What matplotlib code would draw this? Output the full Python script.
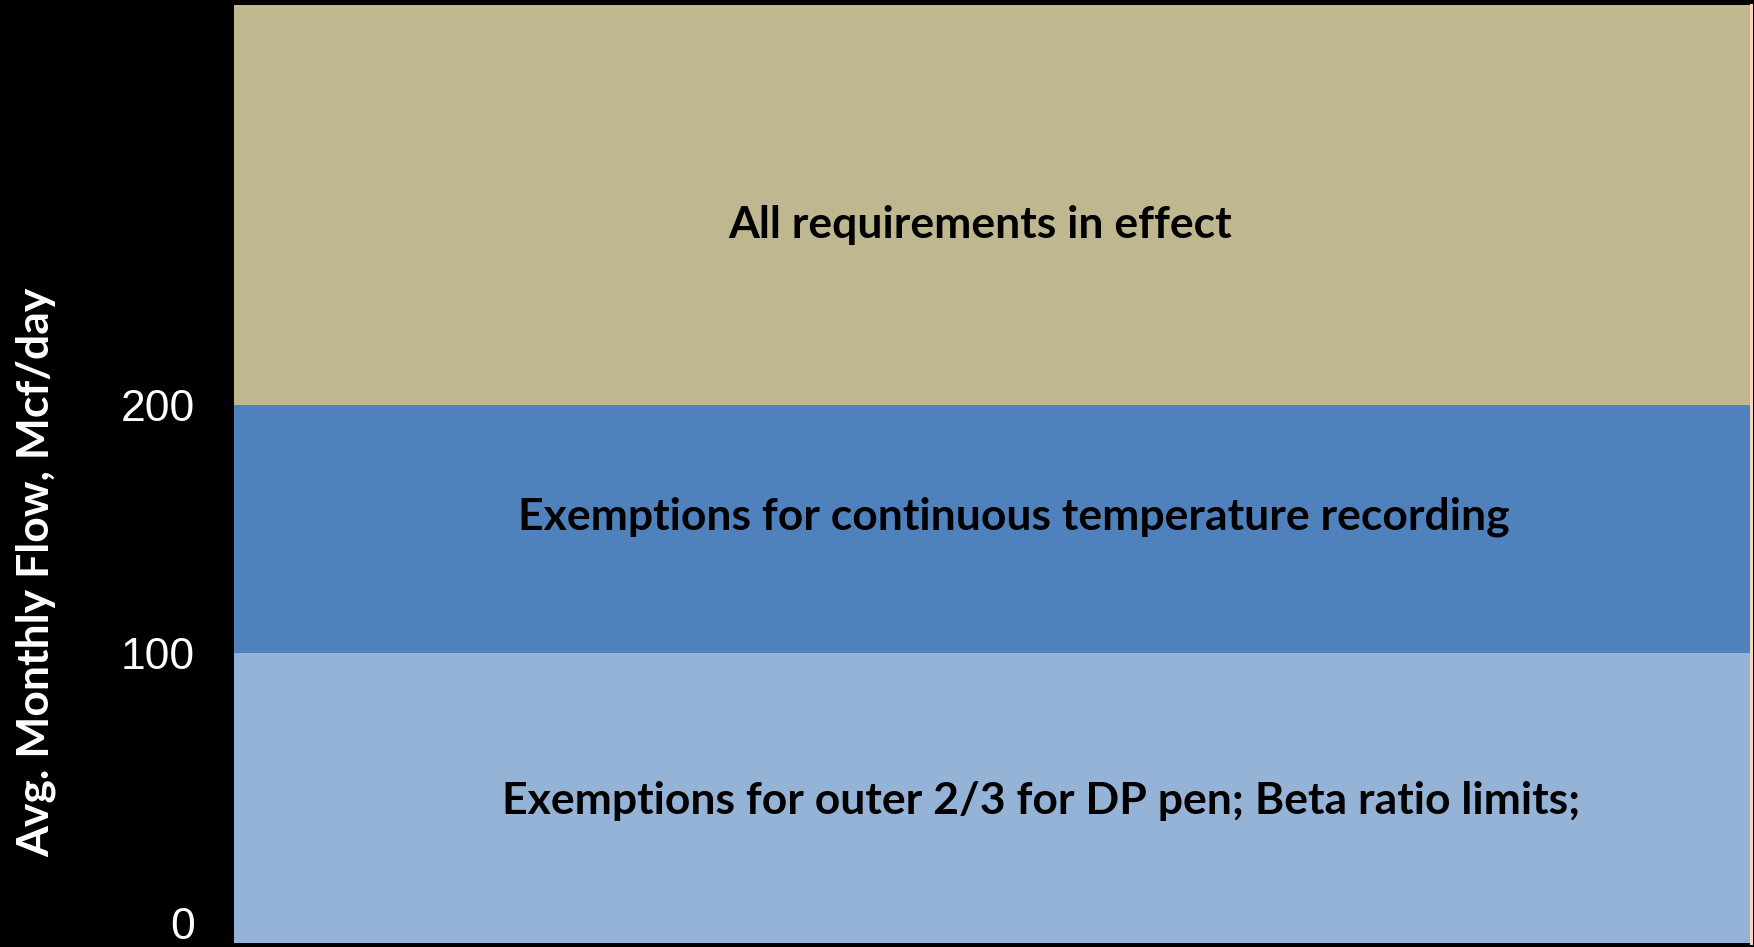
import numpy as np
import matplotlib
matplotlib.use("Agg")
import matplotlib.pyplot as plt
import matplotlib.transforms as mtransforms

# band edges (Mcf/day) and labels
band_bottoms = [0, 100, 200]
band_tops = [100, 200, 300]
band_labels = [
    "Exemptions for outer 2/3 for DP pen; Beta ratio limits;",
    "Exemptions for continuous temperature recording",
    "All requirements in effect",
]
band_colors = ["#95B3D7", "#4F81BD", "#BFB78F"]
tick_values = [0, 100, 200]

# the original diagram is not drawn to a linear scale
scale_vals = [0, 100, 200, 300]
scale_pos = [0, 290, 538, 938]


def fwd(y):
    return np.interp(y, scale_vals, scale_pos)


def inv(p):
    return np.interp(p, scale_pos, scale_vals)


fig = plt.figure(figsize=(17.54, 9.47), dpi=100, facecolor="black")
ax = fig.add_axes([234 / 1754, 1 - 943 / 947, 1517 / 1754, 938 / 947])
ax.set_facecolor("black")
ax.set_yscale("function", functions=(fwd, inv))

heights = [t - b for b, t in zip(band_bottoms, band_tops)]
ax.bar([0] * 3, heights, bottom=band_bottoms, width=1.0, color=band_colors,
       align="center", linewidth=0)
ax.set_xlim(-0.5, 0.5)
ax.set_ylim(0, 300)

# label placement (fraction across, nudge in data units)
label_x = [0.532, 0.514, 0.492]
label_dy = [-1, 5, -5]
for b, t, lab, lx, dy in zip(band_bottoms, band_tops, band_labels, label_x, label_dy):
    ax.text(lx, (b + t) / 2 + dy, lab, transform=ax.get_yaxis_transform(),
            ha="center", va="center", fontsize=32, fontweight="bold",
            family=["Lato", "DejaVu Sans"], color="black")

ax.set_xticks([])
ax.set_yticks(tick_values)
ax.set_yticklabels([str(v) for v in tick_values])
ax.tick_params(axis="y", length=0, pad=28, colors="white", labelsize=32)
for lbl in ax.get_yticklabels():
    lbl.set_family(["Liberation Sans", "DejaVu Sans"])
zero_lbl = ax.get_yticklabels()[0]
zero_lbl.set_verticalalignment("baseline")
zero_lbl.set_transform(zero_lbl.get_transform() +
                       mtransforms.ScaledTranslation(0, 4 / 100, fig.dpi_scale_trans))

for side in ["top", "left", "bottom"]:
    ax.spines[side].set_visible(False)
ax.spines["right"].set_color("#FBD4B4")
ax.spines["right"].set_linewidth(2.2)

fig.text(36 / 1754, 1 - 572 / 947, "Avg. Monthly Flow, Mcf/day", rotation=90,
         ha="center", va="center", color="white", fontsize=32,
         fontweight="bold", family=["Lato", "DejaVu Sans"])

fig.savefig("out.png", dpi=100, facecolor="black")
